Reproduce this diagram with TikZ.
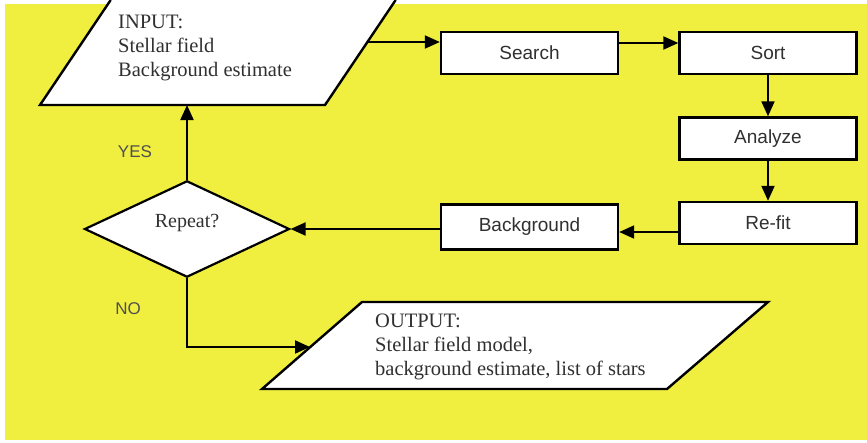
\documentclass[tikz,border=0pt]{standalone}
\usepackage{fontspec}
\setmainfont{Liberation Serif}
\setsansfont{Liberation Sans}
\usetikzlibrary{arrows.meta,shapes.geometric}
\definecolor{flowyellow}{RGB}{240,238,62}
\definecolor{inkgray}{RGB}{48,48,48}
\begin{document}
\begin{tikzpicture}[x=1pt,y=-1pt,
  stepbox/.style={draw=black, line width=2.4pt, fill=white,
    minimum width=177pt, minimum height=42pt, inner sep=0pt,
    font=\sffamily\fontsize{19}{22}\selectfont, text=inkgray},
  flow/.style={line width=2pt, -{Triangle[length=15pt,width=13pt]}},
  shapeline/.style={draw=black, line width=2.4pt, line join=miter},
  serifbody/.style={font=\rmfamily\fontsize{20.5}{24}\selectfont, text=inkgray,
    align=left, inner sep=0pt, anchor=north west},
  answer/.style={font=\sffamily\fontsize{17}{20}\selectfont, text=inkgray!85}]

% page and yellow field
\useasboundingbox (0,0) rectangle (867,442);
\fill[white] (0,0) rectangle (867,442);
\fill[flowyellow] (5,4) rectangle (867,440);

% input parallelogram (its top runs off the sheet)
\coordinate (inBL) at (40,105);
\coordinate (inBR) at (325,105);
\coordinate (inTR) at (395.7,0);
\coordinate (inTL) at (110.7,0);
\fill[white] (inBL) -- (inBR) -- (inTR) -- (inTL) -- cycle;
\draw[shapeline] (inTL) -- (inBL) -- (inBR) -- (inTR);
\node[serifbody] (intext) at (118,15) {INPUT:\\Stellar field\\Background estimate};

% output parallelogram
\coordinate (outBL) at (262,389);
\coordinate (outBR) at (667,389);
\coordinate (outTR) at (768,302);
\coordinate (outTL) at (362,302);
\filldraw[fill=white, shapeline] (outBL) -- (outBR) -- (outTR) -- (outTL) -- cycle;
\node[serifbody] (outtext) at (375,314) {OUTPUT:\\Stellar field model,\\background estimate, list of stars};

% processing steps
\node[stepbox] (search) at (529.5,53) {Search};
\node[stepbox] (sort) at (768,53) {Sort};
\node[stepbox] (analyze) at (768,138.5) {Analyze};
\node[stepbox] (refit) at (768,223) {Re-fit};
\node[stepbox, minimum height=45pt] (bg) at (529.5,227) {Background};

% decision
\node[draw=black, line width=2.2pt, fill=white, diamond, inner sep=0pt,
  minimum width=205pt, minimum height=92pt,
  text height=14pt, text depth=18pt,
  font=\rmfamily\fontsize{20}{24}\selectfont, text=inkgray] (rep) at (187,229) {Repeat?};

% connectors
\coordinate (inR) at (367,42);
\coordinate (inB) at (187,105);
\coordinate (outL) at (310,347);
\draw[flow] (inR) -- (inR -| search.west);
\draw[flow] ([yshift=10pt]search.east) -- ([yshift=10pt]sort.west);
\draw[flow] (sort.south) -- (analyze.north);
\draw[flow] (analyze.south) -- (refit.north);
\draw[flow] ([yshift=-9pt]refit.west) -- ([yshift=-9pt]refit.west -| bg.east);
\draw[flow] (rep.east -| bg.west) -- (rep.east);
\draw[flow] (rep.north) -- (inB);
\draw[flow] (rep.south) |- (outL);

% branch labels
\node[answer] (yes) at (135,152) {YES};
\node[answer] (no) at (128,309) {NO};
\end{tikzpicture}
\end{document}
